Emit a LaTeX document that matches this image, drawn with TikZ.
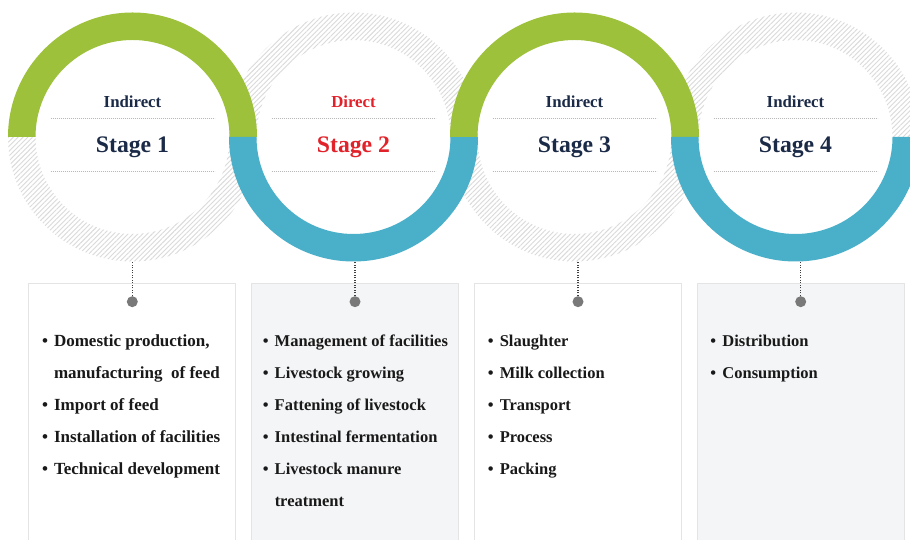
\documentclass[tikz,border=0pt]{standalone}
\usepackage{fontspec}
\setmainfont{Liberation Serif}
\usetikzlibrary{patterns.meta}

\definecolor{leafgreen}{HTML}{9DC13B}
\definecolor{seablue}{HTML}{4AAFC9}
\definecolor{navy}{HTML}{1B2A47}
\definecolor{stagered}{HTML}{E2222A}
\definecolor{hatchgray}{HTML}{DADADA}
\definecolor{panelgray}{HTML}{F4F5F6}
\definecolor{panelline}{HTML}{E4E4E4}

\newcommand{\itm}{\makebox[12pt][l]{\textbullet}}
\newcommand{\itmcont}{\hspace*{12pt}}

\begin{document}
\begin{tikzpicture}[
    x=1pt, y=1pt,
    ring/.style={circle, minimum size=249pt, inner sep=0pt, outer sep=0pt},
    hatched/.style={pattern={Lines[angle=45, distance=3.4pt, line width=0.9pt]}, pattern color=hatchgray},
    kind/.style={font=\fontsize{16.8}{20}\selectfont\bfseries, text=navy, inner sep=0pt, anchor=base},
    stage/.style={font=\fontsize{23.7}{28}\selectfont\bfseries, text=navy, inner sep=0pt, anchor=base},
    sep/.style={draw=gray!55, line width=0.9pt, dash pattern=on 0.9pt off 1.1pt},
    panel/.style={draw=panelline, line width=0.9pt, minimum width=207pt, minimum height=262pt, anchor=north, inner sep=0pt},
    dot/.style={circle, fill=gray!95!black, minimum size=11pt, inner sep=0pt},
    stem/.style={draw=black!75, line width=1.3pt, dash pattern=on 1.2pt off 1.3pt},
    items/.style={font=\fontsize{16.5}{32}\selectfont\bfseries, text=black!90, align=left, inner sep=0pt, anchor=north west}
]
\clip (0,0) rectangle (910,540);
\fill[white] (0,0) rectangle (910,540);

\node[ring] (ring1) at (132.5,403) {};
\node[ring] (ring2) at (353.5,403) {};
\node[ring] (ring3) at (574.5,403) {};
\node[ring] (ring4) at (795.5,403) {};

\fill[hatched] (ring1.west) arc[start angle=180, end angle=360, radius=124.5] -- ++(-27.5,0) arc[start angle=360, end angle=180, radius=97] -- cycle;
\fill[hatched] (ring2.west) arc[start angle=180, end angle=0, radius=124.5] -- ++(-27.5,0) arc[start angle=0, end angle=180, radius=97] -- cycle;
\fill[hatched] (ring3.west) arc[start angle=180, end angle=360, radius=124.5] -- ++(-27.5,0) arc[start angle=360, end angle=180, radius=97] -- cycle;
\fill[hatched] (ring4.west) arc[start angle=180, end angle=0, radius=124.5] -- ++(-27.5,0) arc[start angle=0, end angle=180, radius=97] -- cycle;

\fill[leafgreen] (ring1.west) arc[start angle=180, end angle=0, radius=124.5] -- ++(-27.5,0) arc[start angle=0, end angle=180, radius=97] -- cycle;
\fill[seablue] (ring2.west) arc[start angle=180, end angle=360, radius=124.5] -- ++(-27.5,0) arc[start angle=360, end angle=180, radius=97] -- cycle;
\fill[leafgreen] (ring3.west) arc[start angle=180, end angle=0, radius=124.5] -- ++(-27.5,0) arc[start angle=0, end angle=180, radius=97] -- cycle;
\fill[seablue] (ring4.west) arc[start angle=180, end angle=360, radius=124.5] -- ++(-27.5,0) arc[start angle=360, end angle=180, radius=97] -- cycle;

\node[kind] (kind1) at (132.5,432.7) {Indirect};
\node[stage] (stage1) at (132.5,387) {Stage 1};
\node[kind, text=stagered] (kind2) at (353.5,432.7) {Direct};
\node[stage, text=stagered] (stage2) at (353.5,387) {Stage 2};
\node[kind] (kind3) at (574.5,432.7) {Indirect};
\node[stage] (stage3) at (574.5,387) {Stage 3};
\node[kind] (kind4) at (795.5,432.7) {Indirect};
\node[stage] (stage4) at (795.5,387) {Stage 4};

\draw[sep] (50.5,422) -- (214.5,422);
\draw[sep] (50.5,369) -- (214.5,369);
\draw[sep] (271.5,422) -- (435.5,422);
\draw[sep] (271.5,369) -- (435.5,369);
\draw[sep] (492.5,422) -- (656.5,422);
\draw[sep] (492.5,369) -- (656.5,369);
\draw[sep] (713.5,422) -- (877.5,422);
\draw[sep] (713.5,369) -- (877.5,369);

\node[panel] (box1) at (132.3,257.3) {};
\node[panel, fill=panelgray] (box2) at (355,257.3) {};
\node[panel] (box3) at (578,257.3) {};
\node[panel, fill=panelgray] (box4) at (800.7,257.3) {};

\node[dot] (dot1) at (132.3,238.3) {};
\node[dot] (dot2) at (355,238.3) {};
\node[dot] (dot3) at (578,238.3) {};
\node[dot] (dot4) at (800.7,238.3) {};

\draw[stem] (dot1) -- (dot1 |- ring1.south);
\draw[stem] (dot2) -- (dot2 |- ring2.south);
\draw[stem] (dot3) -- (dot3 |- ring3.south);
\draw[stem] (dot4) -- (dot4 |- ring4.south);

\node[items, font=\fontsize{17}{32}\selectfont\bfseries] (list1) at ([xshift=13.5pt, yshift=-51.6pt]box1.north west)
  {\itm Domestic production,\\ \itmcont manufacturing\ \ of feed\\ \itm Import of feed\\ \itm Installation of facilities\\ \itm Technical development};
\node[items] (list2) at ([xshift=11.5pt, yshift=-51.8pt]box2.north west)
  {\itm Management of facilities\\ \itm Livestock growing\\ \itm Fattening of livestock\\ \itm Intestinal fermentation\\ \itm Livestock manure\\ \itmcont treatment};
\node[items] (list3) at ([xshift=13.5pt, yshift=-51.8pt]box3.north west)
  {\itm Slaughter\\ \itm Milk collection\\ \itm Transport\\ \itm Process\\ \itm Packing};
\node[items] (list4) at ([xshift=13.5pt, yshift=-51.8pt]box4.north west)
  {\itm Distribution\\ \itm Consumption};
\end{tikzpicture}
\end{document}
